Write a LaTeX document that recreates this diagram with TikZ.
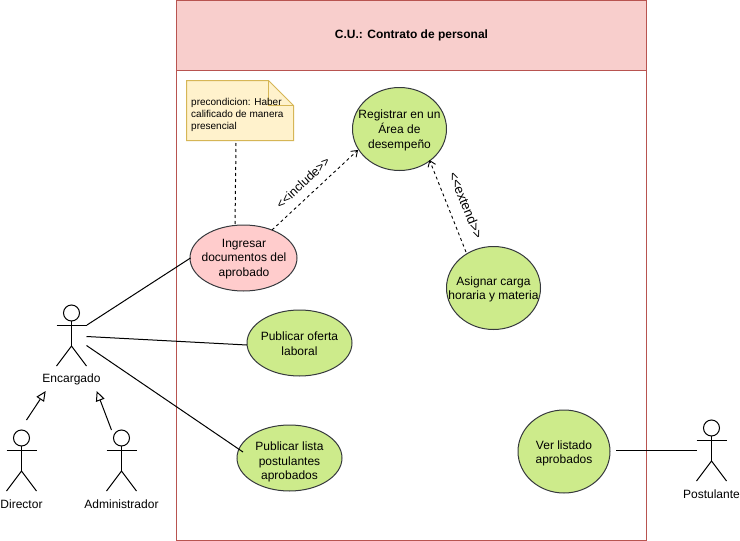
\documentclass[tikz,border=0pt]{standalone}
\usepackage{fontspec}
\setmainfont{Liberation Sans}
\newfontfamily\lblfont{Liberation Sans}
\usetikzlibrary{arrows.meta,shapes.geometric}
\definecolor{frameRed}{HTML}{B85450}
\definecolor{headFill}{HTML}{F8CECC}
\definecolor{ucGreen}{HTML}{CDEB8B}
\definecolor{ucPink}{HTML}{FFCCCC}
\definecolor{noteFill}{HTML}{FFF2CC}
\definecolor{noteLine}{HTML}{D6B656}
\definecolor{ucLine}{HTML}{36393D}
\tikzset{
  usecase/.style={ellipse,draw=ucLine,line width=1pt,fill=ucGreen,inner sep=0pt,outer sep=0pt},
  uctext/.style={align=center,inner sep=0pt,font=\fontsize{12}{14.7}\selectfont},
  actortext/.style={inner sep=0pt,font=\fontsize{12}{14.4}\selectfont},
  edgetext/.style={inner sep=0pt,font=\lblfont\fontsize{12.4}{14.4}\selectfont},
  actorline/.style={draw=black,line width=1pt},
  assoc/.style={draw=black,line width=1pt},
  dep/.style={draw=black,line width=0.9pt,dash pattern=on 3pt off 3pt,-{Straight Barb[length=5.5pt,width=8pt]}},
  gen/.style={draw=black,line width=1pt,-{Triangle[open,fill=white,length=10pt,width=9pt]}},
  notelink/.style={draw=black,line width=1pt,dash pattern=on 3pt off 3pt},
}
% name, centre x, head centre y, label
\newcommand{\myactor}[4]{%
  \node[circle,draw=black,line width=1pt,fill=white,minimum size=16pt,inner sep=0pt,outer sep=0pt] (#1head) at (#2,#3) {};
  \coordinate (#1hip) at (#2,#3+33);
  \draw[actorline] (#1head.south) -- (#1hip);
  \draw[actorline] (#2-15,#3+12) -- (#2+15,#3+12);
  \draw[actorline] (#2-15,#3+53) -- (#1hip) -- (#2+15,#3+53);
  \node[actortext,anchor=center] (#1label) at (#2,#3+66) {#4};
}
\begin{document}
\begin{tikzpicture}[x=1pt,y=-1pt]
\useasboundingbox (0,0) rectangle (740,541);
% frame
\node[draw=frameRed,line width=1pt,fill=white,minimum width=470pt,minimum height=540pt,inner sep=0pt,outer sep=0pt] (frame) at (411.5,270.5) {};
\node[draw=frameRed,line width=1pt,fill=headFill,minimum width=470pt,minimum height=70pt,inner sep=0pt,outer sep=0pt,font=\bfseries\fontsize{12}{14.4}\selectfont] (title) at (411.5,35.5) {C.U.: Contrato de personal};
% actors
\myactor{enc}{71.5}{313}{Encargado}
\myactor{dir}{21.5}{438}{Director}
\myactor{adm}{121.5}{438}{Administrador}
\myactor{pos}{711.5}{428}{Postulante}
% use cases
\node[usecase,minimum width=94pt,minimum height=83pt] (reg) at (399.5,129) {};
\node[uctext] (regT) at (399.5,130.5) {Registrar en un\\Área de\\desempeño};
\node[usecase,minimum width=94pt,minimum height=83pt] (asi) at (493.5,288) {};
\node[uctext] (asiT) at (493.5,289.5) {Asignar carga\\horaria y materia};
\node[usecase,fill=ucPink,minimum width=107pt,minimum height=66pt] (ing) at (243.5,258) {};
\node[uctext] (ingT) at (244,259) {Ingresar\\documentos del\\aprobado};
\node[usecase,minimum width=105pt,minimum height=66pt] (ofe) at (299.5,343) {};
\node[uctext] (ofeT) at (299.5,344) {Publicar oferta\\laboral};
\node[usecase,minimum width=105pt,minimum height=66pt] (lis) at (289.5,458) {};
\node[uctext] (lisT) at (289.5,462) {Publicar lista\\postulantes\\aprobados};
\node[usecase,minimum width=92pt,minimum height=83pt] (ver) at (564,451.5) {};
\node[uctext] (verT) at (564,453.5) {Ver listado\\aprobados};
% note
\coordinate (noteA) at (186.5,80.5);
\coordinate (noteB) at (268.5,80.5);
\coordinate (noteC) at (293.5,105.5);
\coordinate (noteD) at (293.5,140.5);
\coordinate (noteE) at (186.5,140.5);
\coordinate (noteF) at (268.5,105.5);
\draw[draw=noteLine,line width=1pt,fill=noteFill] (noteA) -- (noteB) -- (noteC) -- (noteD) -- (noteE) -- cycle;
\draw[draw=noteLine,line width=1pt] (noteB) -- (noteF) -- (noteC);
\node[anchor=north west,align=left,inner sep=0pt,font=\fontsize{10}{12}\selectfont] (noteT) at (191,98.5) {precondicion: Haber\\calificado de manera\\presencial};
% ports
\coordinate (noteFoot) at (236,143);
\coordinate (encHand) at (87,325);
\coordinate (encMid) at (86.5,336.5);
\coordinate (encLow) at (86.5,345.5);
\coordinate (verPort) at (616,450.5);
\coordinate (posHand) at (696.5,450.5);
\coordinate (dirTop) at (26.5,420);
\coordinate (admTop) at (111.5,430);
\coordinate (encLabelL) at (45.7,391);
\coordinate (encLabelR) at (96.7,391);
\coordinate (ingTop) at (235,225.5);
\coordinate (ingInc) at (272,230);
\coordinate (regIn) at (358,150);
\coordinate (asiOut) at (466,252);
\coordinate (regOut) at (429.5,160);
\coordinate (ingW) at (190.5,258);
\coordinate (ofeW) at (247,345);
\coordinate (lisW) at (243,452);
% connectors
\draw[notelink] (noteFoot) -- (ingTop);
\draw[dep] (ingInc) -- (regIn);
\draw[dep] (asiOut) -- (regOut);
\draw[assoc] (encHand) -- (ingW);
\draw[assoc] (encMid) -- (ofeW);
\draw[assoc] (encLow) -- (lisW);
\draw[assoc] (verPort) -- (posHand);
\draw[gen] (dirTop) -- (encLabelL);
\draw[gen] (admTop) -- (encLabelR);
% connector labels
\node[edgetext,rotate=43] (incL) at (303,182.5) {<<include>>};
\node[edgetext,font=\lblfont\fontsize{13.2}{15}\selectfont,rotate=-68] (extL) at (466,205) {<<extend>>};
\end{tikzpicture}
\end{document}
